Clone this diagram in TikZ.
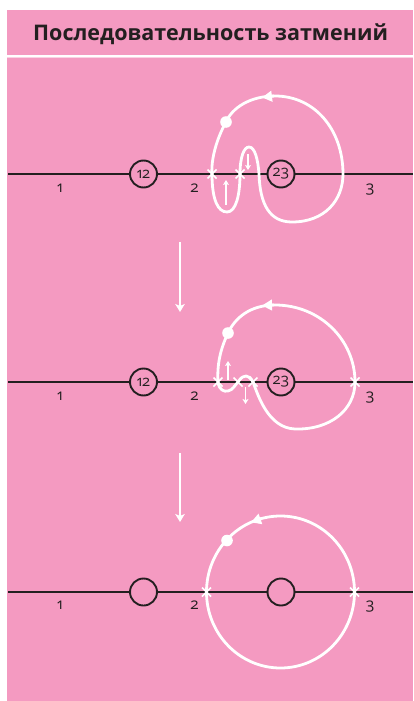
\documentclass[tikz,border=0pt]{standalone}
\usepackage{fontspec}
\setmainfont{Open Sans}[Numbers=OldStyle]
\usetikzlibrary{arrows.meta,shapes.misc}
\definecolor{bgPink}{RGB}{244,154,193}
\definecolor{inkBlack}{RGB}{35,31,32}
\tikzset{
  track/.style={draw=inkBlack,line width=2.9pt},
  numcircle/.style={circle,draw=inkBlack,fill=bgPink,line width=1.9pt,minimum size=27pt,inner sep=0pt,font=\fontsize{15}{15}\selectfont,text=inkBlack},
  orbit/.style={draw=white,line width=2.8pt},
  crossmark/.style={cross out,draw=white,line width=1.5pt,minimum size=7.5pt,inner sep=0pt},
  ticklabel/.style={anchor=base,font=\fontsize{15.5}{15.5}\selectfont,text=inkBlack},
  flowarrow/.style={draw=white,line width=2.5pt,-{Stealth[length=8pt,width=9.5pt,inset=2pt]}},
  smallarrow/.style={draw=white,line width=1.5pt,-{Stealth[length=5pt,width=6pt,inset=1.2pt]}},
  dirtip/.style={draw=white,line width=2.8pt,-{Triangle[length=10pt,width=10.5pt]}}
}

\begin{document}
\begin{tikzpicture}[x=1pt,y=-1pt]
\useasboundingbox (0,0) rectangle (413,701);
\fill[white] (0,0) rectangle (413,701);
\fill[bgPink] (7,10) rectangle (413,701);
\draw[white,line width=1.8pt] (7,55.8) -- (413,55.8);
\draw[white!55!bgPink,line width=1pt] (7,57.6) -- (413,57.6);
\node[anchor=base west,inner sep=0pt,font=\fontsize{21.5}{21.5}\selectfont\bfseries,text=inkBlack] (title) at (33,40.5) {Последовательность затмений};

% first stage
\draw[track] (8,174) -- (413,174);
\node[numcircle] (c12a) at (143.5,174) {12};
\node[numcircle] (c23a) at (281,174) {23};
\node[ticklabel] (l1a) at (60,192) {1};
\node[ticklabel] (l2a) at (194.5,192) {2};
\node[ticklabel] (l3a) at (370,192) {3};
\draw[orbit] (275,96) .. controls (250,96) and (232,108) .. (226,122)
  .. controls (216,140) and (211,160) .. (212,174)
  .. controls (212,200) and (218,212) .. (227,212)
  .. controls (236,212) and (240,195) .. (240,174)
  .. controls (240,157) and (244,147) .. (249,147)
  .. controls (255,147) and (258,160) .. (259,174)
  .. controls (260,205) and (270,222) .. (292,222)
  .. controls (325,222) and (343,200) .. (343,174)
  .. controls (343,130) and (315,96) .. (275,96) -- cycle;
\fill[white] (226,122) circle[radius=5.8];
\draw[dirtip] (274,96) -- (262,97.5);
\node[crossmark] (xa1) at (212,174) {};
\node[crossmark] (xa2) at (240,174) {};
\draw[smallarrow] (226,205) -- (226,180);
\draw[smallarrow] (248,154) -- (248,170);

\coordinate (fa1) at (180,242);
\coordinate (fa2) at (180,312);
\draw[flowarrow] (fa1) -- (fa2);

% second stage
\draw[track] (8,382) -- (413,382);
\node[numcircle] (c12b) at (143.5,382) {12};
\node[numcircle] (c23b) at (281,382) {23};
\node[ticklabel] (l1b) at (60,400) {1};
\node[ticklabel] (l2b) at (194.5,400) {2};
\node[ticklabel] (l3b) at (370,400) {3};
\draw[orbit] (275,305) .. controls (250,305) and (235,318) .. (228,333)
  .. controls (220,350) and (217,365) .. (218,382)
  .. controls (219,390) and (224,392) .. (228,391)
  .. controls (233,390) and (235,385) .. (238,382)
  .. controls (241,377) and (244,376) .. (246,376)
  .. controls (249,376) and (251,378) .. (253,382)
  .. controls (258,395) and (268,428) .. (295,429)
  .. controls (330,430) and (355,410) .. (355,382)
  .. controls (355,340) and (320,305) .. (275,305) -- cycle;
\fill[white] (228,333) circle[radius=5.8];
\draw[dirtip] (274,305) -- (262,305.5);
\node[crossmark] (xb1) at (218,382) {};
\node[crossmark] (xb2) at (238,382) {};
\node[crossmark] (xb3) at (253,382) {};
\node[crossmark] (xb4) at (355,382) {};
\draw[smallarrow] (228,380) -- (228,361);
\draw[smallarrow] (245.5,387) -- (245.5,404);

\coordinate (fb1) at (180,453);
\coordinate (fb2) at (180,522);
\draw[flowarrow] (fb1) -- (fb2);

% third stage
\draw[track] (8,592) -- (413,592);
\node[numcircle] (c12c) at (143.5,592) {};
\node[numcircle] (c23c) at (281,592) {};
\node[ticklabel] (l1c) at (60,609.5) {1};
\node[ticklabel] (l2c) at (194.5,609.5) {2};
\node[ticklabel] (l3c) at (370,609.5) {3};
\draw[orbit] (280.5,592) ellipse[x radius=74,y radius=76];
\fill[white] (227,540.5) circle[radius=5.8];
\draw[dirtip] (261.3,518.6) -- (251,522.3);
\node[crossmark] (xc1) at (206.5,592) {};
\node[crossmark] (xc2) at (354.5,592) {};
\end{tikzpicture}
\end{document}
